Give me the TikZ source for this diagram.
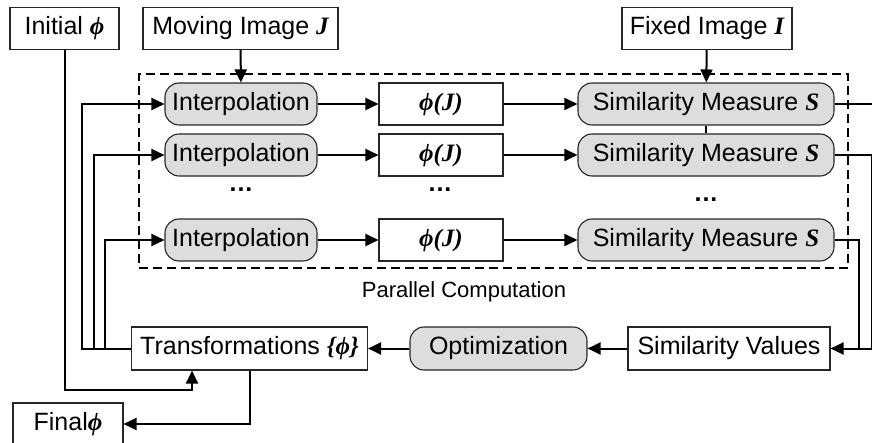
\documentclass[tikz,border=0pt]{standalone}
\usepackage{fontspec}
\setmainfont{Liberation Sans}
\newfontfamily\serbi{Liberation Serif}
\newcommand\mbi[1]{{\serbi\bfseries\itshape #1}}
\newcommand\vphi{\symbol{"03D5}}
\usetikzlibrary{arrows.meta,calc}
\tikzset{
  box/.style={draw=black!85, line width=1.1pt, fill=white, inner sep=0pt, minimum height=42pt},
  rbox/.style={box, fill=gray!27, rounded corners=14pt},
  conn/.style={line width=2pt},
  arr/.style={conn, -{Triangle[length=13pt,width=12pt]}},
  dots/.style={inner sep=0pt, font=\fontsize{25}{30}\selectfont\bfseries}
}
\begin{document}
\begin{tikzpicture}[x=1pt, y=-1pt, font=\fontsize{25}{30}\selectfont]
\useasboundingbox (0,0) rectangle (872,443);
\clip (0,0) rectangle (872,443);
% top inputs
\node[box, minimum width=109pt] (init) at (64.5,28.5) {Initial \mbi{\vphi}};
\node[box, minimum width=195pt] (moving) at (240.5,28.5) {Moving Image \mbi{J}};
\node[box, minimum width=170pt] (fixed) at (707,28.5) {Fixed Image \mbi{I}};
% parallel region
\node[draw, dashed, dash pattern=on 9pt off 5pt, line width=1.8pt, inner sep=0pt,
      minimum width=709pt, minimum height=194pt] (par) at (493.5,171) {};
\node[inner sep=0pt, font=\fontsize{22}{26}\selectfont] (parlabel) at (464,292) {Parallel Computation};
% rows
\foreach \i/\y in {1/104,2/155,3/240}{
  \node[rbox, minimum width=152pt] (interp\i) at (241,\y) {Interpolation};
  \node[box, minimum width=124pt] (phi\i) at (441,\y) {\mbi{\vphi(J)}};
  \node[rbox, minimum width=256pt] (sim\i) at (706,\y) {Similarity Measure \mbi{S}};
  \draw[arr] (interp\i) -- (phi\i);
  \draw[arr] (phi\i) -- (sim\i);
}
\node[dots] (d1) at (241,190) {.\kern1pt.\kern1pt.};
\node[dots] (d2) at (440,190) {.\kern1pt.\kern1pt.};
\node[dots] (d3) at (706,200) {.\kern1pt.\kern1pt.};
% bottom row
\node[box, minimum width=236pt, minimum height=43pt] (trans) at (249.5,348.5) {Transformations \mbi{\{\vphi\}}};
\node[rbox, minimum width=177pt, minimum height=43pt] (opt) at (498.5,348.5) {Optimization};
\node[box, minimum width=202pt, minimum height=43pt] (simv) at (729,348.5) {Similarity Values};
\node[box, minimum width=110pt] (final) at (68,424) {Final\mbi{\vphi}};
% input arrows
\draw[arr] (moving) -- (interp1);
\draw[arr] (fixed) -- (sim1);
\draw[line width=1.2pt] (sim1) -- (sim2);
% right side
\coordinate (r1) at (880,104);
\draw[line width=1.3pt] (sim1.east) -- (r1);
\draw[arr] (sim2.east) -| ($(simv.east)+(41,0)$) -- (simv.east);
\draw[conn] (sim3.east) -| ($(simv.east)+(28,0)$);
% bottom chain
\draw[arr] (simv) -- (opt);
\draw[arr] (opt) -- (trans);
% feedback
\draw[arr] (trans.west) -- ++(-48.5,0) |- (interp1.west);
\draw[arr] (trans.west) -- ++(-36.5,0) |- (interp2.west);
\draw[arr] (trans.west) -- ++(-25.5,0) |- (interp3.west);
% initial phi
\coordinate (ib) at (192,390);
\draw[arr] (init.south) |- (ib) -- (ib |- trans.south);
% final
\draw[arr] (trans.south) |- (final.east);
\end{tikzpicture}
\end{document}
